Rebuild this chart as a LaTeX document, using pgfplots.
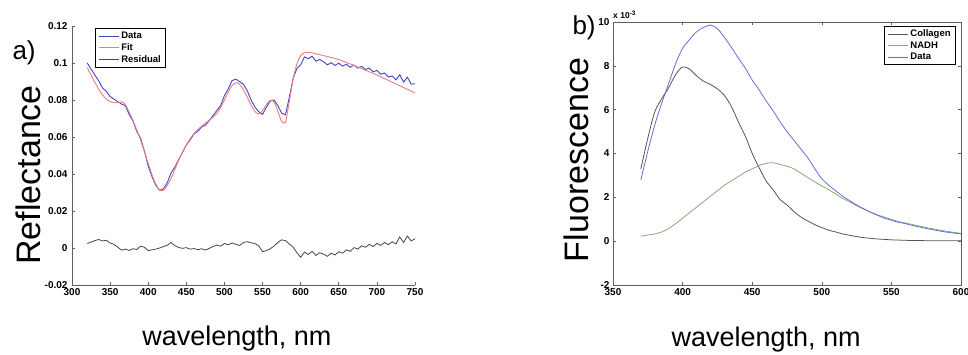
\documentclass[border=0pt]{standalone}
\usepackage{fontspec}
\setmainfont{Liberation Sans}
\usepackage{pgfplots}
\pgfplotsset{compat=1.18}
\definecolor{aData}{RGB}{60,70,200}
\definecolor{aFit}{RGB}{235,125,125}
\definecolor{aRes}{RGB}{70,70,70}
\definecolor{bCol}{RGB}{85,85,85}
\definecolor{bNADH}{RGB}{135,170,125}
\definecolor{bData}{RGB}{100,110,215}
\definecolor{axgray}{RGB}{95,95,95}
\pgfplotsset{
  common/.style={
    scale only axis,
    tick align=inside,
    major tick length=3pt,
    axis line style={axgray, line width=0.8pt},
    every tick/.style={axgray, line width=0.6pt},
    tick label style={font=\fontsize{10}{11}\selectfont\bfseries},
    /pgf/number format/assume math mode=true,
    label style={font=\fontsize{34}{36}\selectfont},
    xlabel style={font=\fontsize{27}{29}\selectfont},
    legend style={font=\fontsize{9.5}{11}\selectfont\bfseries, draw=black, line width=0.8pt,
      inner xsep=3pt, inner ysep=1.5pt, row sep=-0.5pt},
    legend cell align=left,
    legend image code/.code={\draw[line width=0.9pt,#1] (0pt,0pt) -- (20pt,0pt);},
  }
}
\begin{document}
\begin{tikzpicture}
\path[use as bounding box] (0,0) rectangle (968pt,-355pt);
% ---------------- panel a ----------------
\begin{axis}[common,
  at={(72pt,-285pt)}, anchor=south west,
  width=343pt, height=259pt,
  xmin=300, xmax=750, ymin=-0.02, ymax=0.12,
  axis x line*=bottom, axis y line*=left,
  xtick={300,350,400,450,500,550,600,650,700,750},
  xticklabels={300,350,400,450,500,550,600,650,700,750},
  ytick={-0.02,0,0.02,0.04,0.06,0.08,0.1,0.12},
  yticklabels={-0.02,0,0.02,0.04,0.06,0.08,0.1,0.12},
  yticklabel style={xshift=-1pt},
  xlabel={wavelength, nm},
  ylabel={Reflectance},
  xlabel style={at={(axis description cs:0.481,-0.2355)}, anchor=base},
  ylabel style={at={(axis description cs:-0.128,0.425)}, anchor=center},
  legend style={at={(axis description cs:0.067,0.992)}, anchor=north west},
]
\addplot[aData, line width=0.9pt] coordinates {
(320,0.1000)(325,0.0967)(330,0.0935)(335,0.0904)(340,0.0866)(345,0.0847)(350,0.0819)(355,0.0805)(360,0.0791)(365,0.0778)
(370,0.0769)(375,0.0722)(380,0.0686)(385,0.0630)(390,0.0593)(395,0.0524)(400,0.0443)(405,0.0385)(410,0.0339)(415,0.0312)
(420,0.0320)(425,0.0353)(430,0.0406)(435,0.0437)(440,0.0478)(445,0.0516)(450,0.0558)(455,0.0584)(460,0.0616)(465,0.0631)
(470,0.0654)(475,0.0664)(480,0.0688)(485,0.0716)(490,0.0743)(495,0.0770)(500,0.0824)(505,0.0860)(510,0.0905)(515,0.0913)
(520,0.0899)(525,0.0885)(530,0.0849)(535,0.0800)(540,0.0762)(545,0.0737)(550,0.0722)(555,0.0761)(560,0.0794)(565,0.0800)
(570,0.0770)(575,0.0729)(580,0.0720)(585,0.0812)(590,0.0915)(595,0.0970)(600,0.0990)(605,0.1033)(610,0.1023)(615,0.1037)
(620,0.1010)(625,0.1019)(630,0.1007)(635,0.0990)(640,0.1002)(645,0.0987)(650,0.0999)(655,0.0983)(660,0.0993)(665,0.0977)
(670,0.0989)(675,0.0972)(680,0.0982)(685,0.0965)(690,0.0972)(695,0.0952)(700,0.0960)(705,0.0939)(710,0.0946)(715,0.0924)
(720,0.0930)(725,0.0909)(730,0.0937)(735,0.0897)(740,0.0923)(745,0.0886)(750,0.0888)
};
\addlegendentry{Data}
\addplot[aFit, line width=0.9pt, smooth] coordinates {
(320,0.0975)(325,0.0935)(330,0.0895)(335,0.0858)(340,0.0828)(345,0.0805)(350,0.0792)(355,0.0785)(360,0.0786)(365,0.0790)
(370,0.0775)(375,0.0735)(380,0.0690)(385,0.0638)(390,0.0583)(395,0.0520)(400,0.0457)(405,0.0395)(410,0.0345)(415,0.0312)
(420,0.0312)(425,0.0338)(430,0.0376)(435,0.0425)(440,0.0475)(445,0.0518)(450,0.0556)(455,0.0590)(460,0.0619)(465,0.0640)
(470,0.0658)(475,0.0675)(480,0.0690)(485,0.0708)(490,0.0727)(495,0.0760)(500,0.0800)(505,0.0842)(510,0.0878)(515,0.0893)
(520,0.0885)(525,0.0855)(530,0.0815)(535,0.0772)(540,0.0738)(545,0.0725)(550,0.0742)(555,0.0775)(560,0.0798)(565,0.0790)
(570,0.0740)(575,0.0685)(580,0.0680)(585,0.0790)(590,0.0910)(595,0.0995)(600,0.1040)(605,0.1055)(610,0.1058)(615,0.1055)
(620,0.1050)(625,0.1045)(630,0.1040)(635,0.1035)(640,0.1030)(645,0.1025)(650,0.1019)(655,0.1011)(660,0.1003)(665,0.0995)
(670,0.0987)(675,0.0978)(680,0.0970)(685,0.0961)(690,0.0952)(695,0.0944)(700,0.0935)(705,0.0925)(710,0.0916)(715,0.0906)
(720,0.0896)(725,0.0887)(730,0.0877)(735,0.0867)(740,0.0858)(745,0.0848)(750,0.0838)
};
\addlegendentry{Fit}
\addplot[aRes, line width=0.8pt] coordinates {
(320,0.0025)(325,0.0032)(330,0.0040)(335,0.0046)(340,0.0038)(345,0.0042)(350,0.0027)(355,0.0020)(360,0.0005)(365,-0.0012)
(370,-0.0006)(375,-0.0013)(380,-0.0004)(385,-0.0008)(390,0.0010)(395,0.0004)(400,-0.0014)(405,-0.0010)(410,-0.0006)(415,0.0000)
(420,0.0008)(425,0.0015)(430,0.0030)(435,0.0012)(440,0.0003)(445,-0.0002)(450,0.0002)(455,-0.0006)(460,-0.0003)(465,-0.0009)
(470,-0.0004)(475,-0.0011)(480,-0.0002)(485,0.0008)(490,0.0016)(495,0.0010)(500,0.0024)(505,0.0018)(510,0.0027)(515,0.0020)
(520,0.0014)(525,0.0030)(530,0.0034)(535,0.0028)(540,0.0024)(545,0.0012)(550,-0.0020)(555,-0.0014)(560,-0.0004)(565,0.0010)
(570,0.0030)(575,0.0044)(580,0.0040)(585,0.0022)(590,0.0005)(595,-0.0025)(600,-0.0050)(605,-0.0022)(610,-0.0035)(615,-0.0018)
(620,-0.0040)(625,-0.0026)(630,-0.0033)(635,-0.0045)(640,-0.0028)(645,-0.0038)(650,-0.0020)(655,-0.0028)(660,-0.0010)(665,-0.0018)
(670,0.0002)(675,-0.0006)(680,0.0012)(685,0.0004)(690,0.0020)(695,0.0008)(700,0.0025)(705,0.0014)(710,0.0030)(715,0.0018)
(720,0.0034)(725,0.0022)(730,0.0060)(735,0.0030)(740,0.0065)(745,0.0038)(750,0.0050)
};
\addlegendentry{Residual}
\end{axis}
\node[anchor=base west, font=\fontsize{26}{28}\selectfont] at (9pt,-60pt) {a)};
% ---------------- panel b ----------------
\begin{axis}[common, name=B,
  at={(613pt,-285pt)}, anchor=south west,
  width=348pt, height=263pt,
  xmin=350, xmax=600, ymin=-2, ymax=10,
  xtick={350,400,450,500,550,600},
  xticklabels={350,400,450,500,550,600},
  ytick={-2,0,2,4,6,8,10},
  yticklabels={-2,0,2,4,6,8,10},
  xtick pos=both, ytick pos=both,
  xticklabel pos=lower, yticklabel pos=left,
  xlabel={wavelength, nm},
  ylabel={Fluorescence},
  xlabel style={at={(axis description cs:0.44,-0.232)}, anchor=base},
  ylabel style={at={(axis description cs:-0.106,0.475)}, anchor=center},
  legend style={at={(axis description cs:0.9856,0.985)}, anchor=north east},
]
\addplot[bCol, line width=0.8pt, smooth] coordinates {
(370,3.3)(375,4.7)(380,5.9)(385,6.5)(390,7.0)(395,7.6)(400,7.95)(405,7.85)(410,7.55)(415,7.3)
(420,7.15)(425,6.95)(430,6.65)(435,6.15)(440,5.45)(445,4.8)(450,4.0)(455,3.35)(460,2.75)(465,2.35)
(470,1.9)(475,1.65)(480,1.35)(485,1.1)(490,0.92)(495,0.75)(500,0.62)(505,0.5)(510,0.42)(515,0.33)
(520,0.27)(525,0.21)(530,0.16)(535,0.13)(540,0.1)(545,0.08)(550,0.06)(555,0.05)(560,0.04)(565,0.03)
(570,0.03)(575,0.02)(580,0.02)(585,0.02)(590,0.02)(595,0.02)(600,0.02)
};
\addlegendentry{Collagen}
\addplot[bNADH, line width=0.8pt, smooth] coordinates {
(370,0.23)(375,0.28)(380,0.33)(385,0.42)(390,0.58)(395,0.80)(400,1.05)(405,1.30)(410,1.55)(415,1.80)
(420,2.05)(425,2.30)(430,2.55)(435,2.75)(440,2.95)(445,3.15)(450,3.3)(455,3.45)(460,3.55)(465,3.58)
(470,3.5)(475,3.42)(480,3.3)(485,3.1)(490,2.9)(495,2.7)(500,2.52)(505,2.35)(510,2.15)(515,1.95)
(520,1.8)(525,1.62)(530,1.47)(535,1.33)(540,1.2)(545,1.1)(550,1.0)(555,0.9)(560,0.83)(565,0.76)
(570,0.69)(575,0.62)(580,0.56)(585,0.5)(590,0.45)(595,0.40)(600,0.36)
};
\addlegendentry{NADH}
\addplot[bData, line width=0.8pt, smooth] coordinates {
(370,2.8)(375,4.1)(380,5.3)(385,6.3)(390,7.2)(395,8.1)(400,8.8)(405,9.2)(410,9.55)(415,9.75)
(420,9.86)(425,9.7)(430,9.3)(435,8.85)(440,8.35)(445,7.9)(450,7.35)(455,6.9)(460,6.4)(465,5.95)
(470,5.45)(475,5.0)(480,4.6)(485,4.2)(490,3.8)(495,3.3)(500,2.85)(505,2.55)(510,2.3)(515,2.05)
(520,1.85)(525,1.65)(530,1.48)(535,1.32)(540,1.18)(545,1.05)(550,0.95)(555,0.86)(560,0.8)(565,0.72)
(570,0.65)(575,0.58)(580,0.52)(585,0.46)(590,0.41)(595,0.37)(600,0.33)
};
\addlegendentry{Data}
\end{axis}
\node[anchor=south west, font=\fontsize{8.5}{9}\selectfont\bfseries, inner sep=0pt] at ([yshift=3pt]B.north west) {x 10\raisebox{0.7ex}{\fontsize{6.5}{7}\selectfont -3}};
\node[anchor=base west, font=\fontsize{26}{28}\selectfont] at (569pt,-35pt) {b)};
\end{tikzpicture}
\end{document}
